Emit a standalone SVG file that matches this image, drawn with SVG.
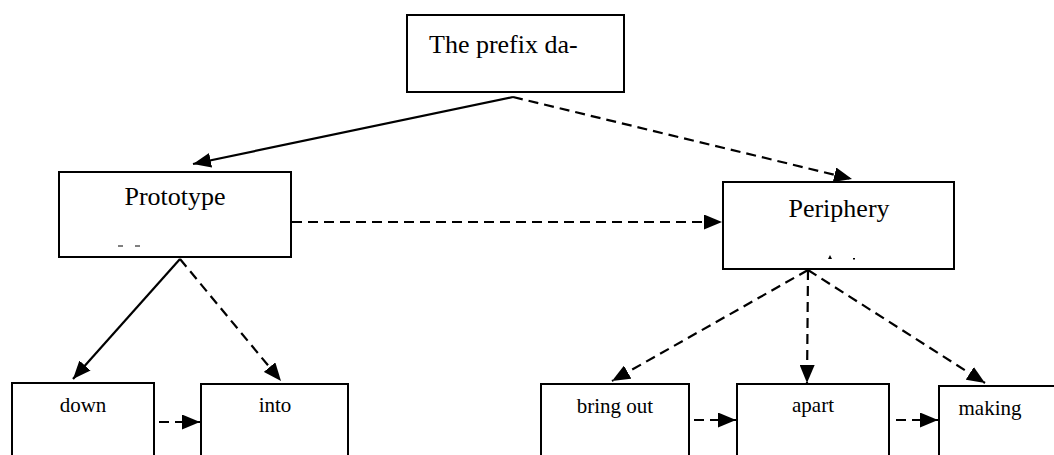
<svg xmlns="http://www.w3.org/2000/svg" width="1054" height="455" viewBox="0 0 1054 455">
<defs>
<style>
.box{fill:#fff;stroke:#000;stroke-width:2}
.t{font-family:"Liberation Serif","Times New Roman",serif;fill:#000}
.big{font-size:26px}
.small{font-size:21px}
.c{fill:none;stroke:#000;stroke-width:2.2}
.d{stroke-dasharray:10 6}
</style>
<marker id="ah" markerUnits="userSpaceOnUse" markerWidth="18" markerHeight="15" refX="18" refY="7.5" orient="auto" viewBox="0 0 18 15">
<path d="M0,0 L18,7.5 L0,15 z" fill="#000"/>
</marker>
</defs>
<rect width="1054" height="455" fill="#fff"/>
<g id="connectors">
<line class="c" x1="513" y1="97" x2="193" y2="164" marker-end="url(#ah)"/>
<line class="c d" x1="513" y1="97" x2="852" y2="179" marker-end="url(#ah)"/>
<line class="c d" x1="292" y1="222" x2="722" y2="222" marker-end="url(#ah)"/>
<line class="c" x1="180" y1="259" x2="73" y2="379" marker-end="url(#ah)"/>
<line class="c d" x1="180" y1="259" x2="281" y2="381" marker-end="url(#ah)"/>
<line class="c d" x1="808" y1="270" x2="612" y2="381" marker-end="url(#ah)"/>
<line class="c d" x1="808" y1="270" x2="807" y2="383" marker-end="url(#ah)"/>
<line class="c d" x1="808" y1="270" x2="985" y2="383" marker-end="url(#ah)"/>
<line class="c d" x1="159" y1="422" x2="200" y2="422" marker-end="url(#ah)"/>
<line class="c d" x1="694" y1="420" x2="736" y2="420" marker-end="url(#ah)"/>
<line class="c d" x1="896" y1="420" x2="938" y2="420" marker-end="url(#ah)"/>
</g>
<g id="node-top">
<rect class="box" x="407" y="15" width="217" height="77"/>
<text class="t big" x="429" y="53">The prefix da-</text>
</g>
<g id="node-prototype">
<rect class="box" x="59" y="172" width="232" height="85"/>
<text class="t big" x="175" y="205" text-anchor="middle">Prototype</text>
<line x1="118" y1="246" x2="123" y2="246" stroke="#000" stroke-width="1"/>
<line x1="135" y1="246" x2="140" y2="246" stroke="#000" stroke-width="1"/>
</g>
<g id="node-periphery">
<rect class="box" x="723" y="182" width="231" height="87"/>
<text class="t big" x="839" y="217" text-anchor="middle">Periphery</text>
<path d="M828,259 L830,255 L832,259 z" fill="#000"/>
<rect x="853" y="258" width="2" height="1.5" fill="#000"/>
</g>
<g id="node-down">
<rect class="box" x="12" y="383" width="142" height="100"/>
<text class="t small" x="83" y="412" text-anchor="middle">down</text>
</g>
<g id="node-into">
<rect class="box" x="201" y="384" width="147" height="100"/>
<text class="t small" x="275" y="412" text-anchor="middle">into</text>
</g>
<g id="node-bringout">
<rect class="box" x="541" y="384" width="148" height="100"/>
<text class="t small" x="615" y="413" text-anchor="middle">bring out</text>
</g>
<g id="node-apart">
<rect class="box" x="737" y="384" width="152" height="100"/>
<text class="t small" x="813" y="412" text-anchor="middle">apart</text>
</g>
<g id="node-making">
<rect class="box" x="939" y="386" width="140" height="100"/>
<text class="t small" x="990" y="415" text-anchor="middle">making</text>
</g>
</svg>
